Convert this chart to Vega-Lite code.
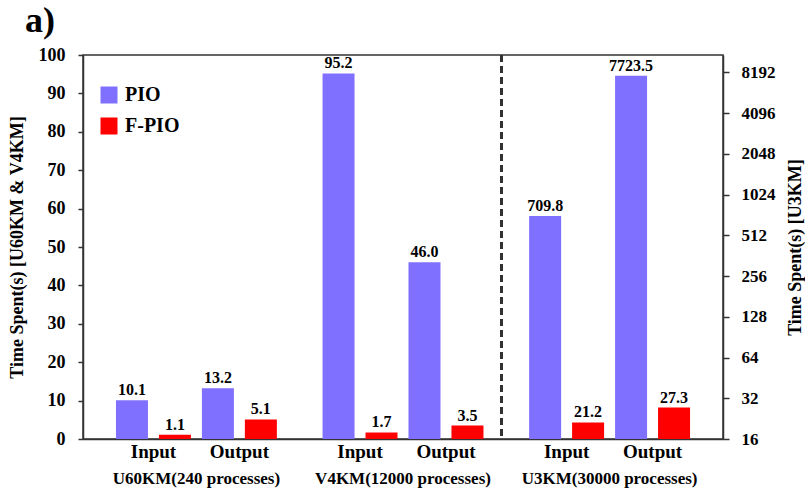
{
  "$schema": "https://vega.github.io/schema/vega-lite/v6.json",
  "width": 640,
  "height": 384,
  "autosize": "none",
  "padding": {"left": 83, "top": 55, "right": 82, "bottom": 53},
  "background": "white",
  "title": {
    "text": "a)",
    "anchor": "start",
    "frame": "group",
    "dx": -58,
    "offset": 6,
    "font": "Liberation Serif",
    "fontSize": 36,
    "fontWeight": "bold",
    "color": "black"
  },
  "config": {
    "font": "Liberation Serif",
    "view": {"stroke": "#333", "strokeWidth": 1.5},
    "axis": {
      "labelFont": "Liberation Serif",
      "titleFont": "Liberation Serif",
      "labelColor": "black",
      "titleColor": "black",
      "labelFontWeight": "bold",
      "titleFontWeight": "bold",
      "domainColor": "#333",
      "tickColor": "#333",
      "domainWidth": 1.5,
      "tickWidth": 1.5,
      "grid": false
    },
    "legend": {
      "labelFont": "Liberation Serif",
      "labelFontWeight": "bold",
      "labelColor": "black"
    }
  },
  "data": {
    "values": [
      {"group": "U60KM(240 processes)", "io": "Input", "series": "PIO", "value": 10.1},
      {"group": "U60KM(240 processes)", "io": "Input", "series": "F-PIO", "value": 1.1},
      {"group": "U60KM(240 processes)", "io": "Output", "series": "PIO", "value": 13.2},
      {"group": "U60KM(240 processes)", "io": "Output", "series": "F-PIO", "value": 5.1},
      {"group": "V4KM(12000 processes)", "io": "Input", "series": "PIO", "value": 95.2},
      {"group": "V4KM(12000 processes)", "io": "Input", "series": "F-PIO", "value": 1.7},
      {"group": "V4KM(12000 processes)", "io": "Output", "series": "PIO", "value": 46.0},
      {"group": "V4KM(12000 processes)", "io": "Output", "series": "F-PIO", "value": 3.5},
      {"group": "U3KM(30000 processes)", "io": "Input", "series": "PIO", "value": 709.8},
      {"group": "U3KM(30000 processes)", "io": "Input", "series": "F-PIO", "value": 21.2},
      {"group": "U3KM(30000 processes)", "io": "Output", "series": "PIO", "value": 7723.5},
      {"group": "U3KM(30000 processes)", "io": "Output", "series": "F-PIO", "value": 27.3}
    ]
  },
  "transform": [{"calculate": "datum.io + ' ' + datum.series", "as": "bar"}],
  "encoding": {
    "x": {
      "field": "group",
      "type": "nominal",
      "sort": ["U60KM(240 processes)", "V4KM(12000 processes)", "U3KM(30000 processes)"],
      "scale": {"paddingInner": 0.168, "paddingOuter": 0.133},
      "axis": {
        "title": null,
        "labelAngle": 0,
        "ticks": false,
        "labelPadding": 31,
        "labelFontSize": 17
      }
    }
  },
  "layer": [
    {
      "layer": [
        {
          "transform": [{"filter": "datum.group !== 'U3KM(30000 processes)'"}],
          "mark": {"type": "bar", "width": 32},
          "encoding": {
            "xOffset": {
              "field": "bar",
              "type": "nominal",
              "sort": ["Input PIO", "Input F-PIO", "Output PIO", "Output F-PIO"],
              "scale": {"paddingInner": 0.256, "paddingOuter": 0.128}
            },
            "y": {
              "field": "value",
              "type": "quantitative",
              "scale": {"domain": [0, 100], "nice": false},
              "axis": {
                "orient": "left",
                "values": [0, 10, 20, 30, 40, 50, 60, 70, 80, 90, 100],
                "labelOverlap": false,
                "title": "Time Spent(s) [U60KM & V4KM]",
                "titleFontSize": 18,
                "labelFontSize": 18,
                "tickSize": 5,
                "labelPadding": 13,
                "titlePadding": 12
              }
            },
            "color": {
              "field": "series",
              "type": "nominal",
              "scale": {"domain": ["PIO", "F-PIO"], "range": ["#8070FF", "#FF0000"]},
              "legend": {
                "orient": "none",
                "legendX": 16,
                "legendY": 30,
                "title": null,
                "symbolType": "square",
                "symbolSize": 289,
                "symbolStrokeWidth": 0,
                "labelFontSize": 20,
                "labelOffset": 6,
                "rowPadding": 11
              }
            }
          }
        },
        {
          "transform": [{"filter": "datum.group !== 'U3KM(30000 processes)'"}],
          "mark": {"type": "text", "baseline": "bottom", "dy": -2, "fontSize": 16, "fontWeight": "bold", "color": "black"},
          "encoding": {
            "xOffset": {"field": "bar", "type": "nominal", "sort": ["Input PIO", "Input F-PIO", "Output PIO", "Output F-PIO"]},
            "y": {
              "field": "value",
              "type": "quantitative",
              "axis": {
                "orient": "left",
                "values": [0, 10, 20, 30, 40, 50, 60, 70, 80, 90, 100],
                "labelOverlap": false,
                "title": "Time Spent(s) [U60KM & V4KM]",
                "titleFontSize": 18,
                "labelFontSize": 18,
                "tickSize": 5,
                "labelPadding": 13,
                "titlePadding": 12
              }
            },
            "text": {"field": "value", "type": "quantitative", "format": ".1f"}
          }
        },
        {
          "transform": [{"filter": "datum.series === 'PIO'"}],
          "mark": {"type": "text", "baseline": "middle", "dx": 21.5, "dy": 13, "fontSize": 19, "fontWeight": "bold", "color": "black"},
          "encoding": {
            "xOffset": {"field": "bar", "type": "nominal", "sort": ["Input PIO", "Input F-PIO", "Output PIO", "Output F-PIO"]},
            "y": {
              "datum": 0,
              "type": "quantitative",
              "axis": {
                "orient": "left",
                "values": [0, 10, 20, 30, 40, 50, 60, 70, 80, 90, 100],
                "labelOverlap": false,
                "title": "Time Spent(s) [U60KM & V4KM]",
                "titleFontSize": 18,
                "labelFontSize": 18,
                "tickSize": 5,
                "labelPadding": 13,
                "titlePadding": 12
              }
            },
            "text": {"field": "io"}
          }
        },
        {
          "mark": {"type": "rule", "strokeDash": [7, 4], "strokeWidth": 2, "color": "#333"},
          "encoding": {
            "x": {"datum": "V4KM(12000 processes)", "bandPosition": 1.074}
          }
        }
      ]
    },
    {
      "transform": [{"filter": "datum.group === 'U3KM(30000 processes)'"}],
      "layer": [
        {
          "mark": {"type": "bar", "width": 32},
          "encoding": {
            "xOffset": {
              "field": "bar",
              "type": "nominal",
              "sort": ["Input PIO", "Input F-PIO", "Output PIO", "Output F-PIO"],
              "scale": {"paddingInner": 0.256, "paddingOuter": 0.128}
            },
            "y": {
              "field": "value",
              "type": "quantitative",
              "scale": {"type": "log", "base": 2, "domain": [16, 11000], "nice": false},
              "axis": {
                "orient": "right",
                "values": [16, 32, 64, 128, 256, 512, 1024, 2048, 4096, 8192],
                "format": "d",
                "labelOverlap": false,
                "title": "Time Spent(s) [U3KM]",
                "titleAngle": 270,
                "titleBaseline": "top",
                "titleFontSize": 18,
                "labelFontSize": 17,
                "tickSize": 6,
                "labelPadding": 12,
                "titlePadding": 11
              }
            },
            "y2": {"datum": 16},
            "color": {
              "field": "series",
              "type": "nominal",
              "scale": {"domain": ["PIO", "F-PIO"], "range": ["#8070FF", "#FF0000"]},
              "legend": {
                "orient": "none",
                "legendX": 16,
                "legendY": 30,
                "title": null,
                "symbolType": "square",
                "symbolSize": 289,
                "symbolStrokeWidth": 0,
                "labelFontSize": 20,
                "labelOffset": 6,
                "rowPadding": 11
              }
            }
          }
        },
        {
          "mark": {"type": "text", "baseline": "bottom", "dy": -2, "fontSize": 16, "fontWeight": "bold", "color": "black"},
          "encoding": {
            "xOffset": {"field": "bar", "type": "nominal", "sort": ["Input PIO", "Input F-PIO", "Output PIO", "Output F-PIO"]},
            "y": {
              "field": "value",
              "type": "quantitative",
              "axis": {
                "orient": "right",
                "values": [16, 32, 64, 128, 256, 512, 1024, 2048, 4096, 8192],
                "format": "d",
                "labelOverlap": false,
                "title": "Time Spent(s) [U3KM]",
                "titleAngle": 270,
                "titleBaseline": "top",
                "titleFontSize": 18,
                "labelFontSize": 17,
                "tickSize": 6,
                "labelPadding": 12,
                "titlePadding": 11
              }
            },
            "text": {"field": "value", "type": "quantitative", "format": ".1f"}
          }
        }
      ]
    }
  ],
  "resolve": {"scale": {"y": "independent"}, "axis": {"y": "independent"}}
}
